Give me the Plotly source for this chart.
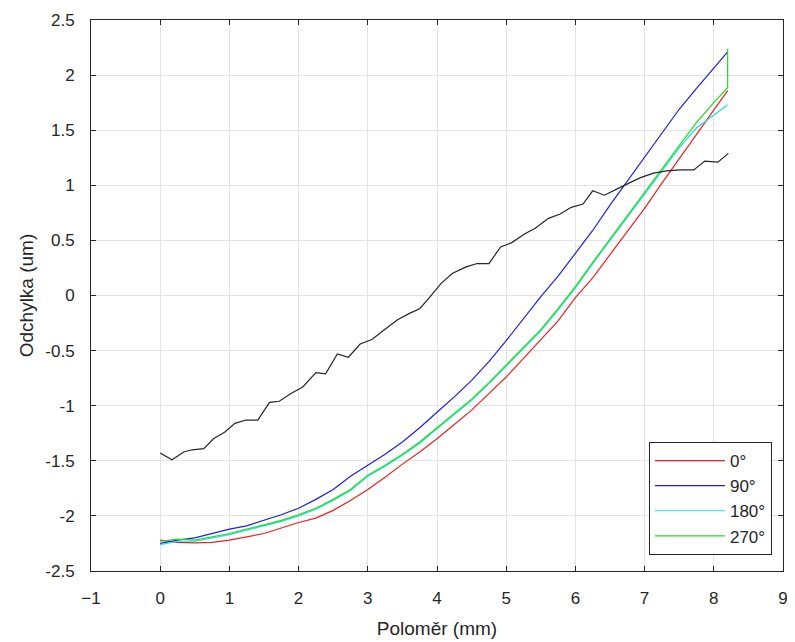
import plotly.graph_objects as go

# Radius grid for the four angular profiles (mm)
x_grid = [0, 0.25, 0.5, 0.75, 1.0, 1.25, 1.5, 1.75, 2.0, 2.25, 2.5, 2.75, 3.0, 3.25,
          3.5, 3.75, 4.0, 4.25, 4.5, 4.75, 5.0, 5.25, 5.5, 5.75, 6.0, 6.25, 6.5,
          6.75, 7.0, 7.25, 7.5, 7.75, 8.0, 8.2]

dev_0 = [-2.22, -2.24, -2.245, -2.24, -2.22, -2.19, -2.16, -2.11, -2.06, -2.02, -1.95,
         -1.86, -1.76, -1.65, -1.53, -1.42, -1.30, -1.17, -1.04, -0.89, -0.74, -0.57,
         -0.40, -0.23, -0.02, 0.16, 0.37, 0.58, 0.79, 1.02, 1.24, 1.47, 1.69, 1.86]

dev_90 = [-2.25, -2.22, -2.20, -2.16, -2.12, -2.09, -2.04, -1.99, -1.93, -1.85, -1.76,
          -1.64, -1.54, -1.44, -1.33, -1.20, -1.06, -0.92, -0.77, -0.60, -0.41, -0.21,
          -0.01, 0.175, 0.38, 0.59, 0.82, 1.04, 1.26, 1.48, 1.69, 1.88, 2.06, 2.21]

dev_180 = [-2.26, -2.23, -2.23, -2.20, -2.17, -2.13, -2.09, -2.05, -2.00, -1.94, -1.86,
           -1.77, -1.64, -1.55, -1.45, -1.34, -1.21, -1.08, -0.95, -0.80, -0.64, -0.48,
           -0.32, -0.13, 0.07, 0.29, 0.50, 0.71, 0.92, 1.13, 1.34, 1.52, 1.64, 1.73]

x_270 = x_grid + [8.2]
dev_270 = [-2.23, -2.21, -2.22, -2.19, -2.16, -2.12, -2.08, -2.04, -1.99, -1.93, -1.85,
           -1.76, -1.63, -1.54, -1.44, -1.33, -1.20, -1.07, -0.94, -0.79, -0.63, -0.47,
           -0.31, -0.12, 0.08, 0.30, 0.51, 0.72, 0.93, 1.14, 1.36, 1.57, 1.75, 1.885, 2.24]

# Black profile (unlabelled)
x_black = [0, 0.17, 0.34, 0.46, 0.63, 0.77, 0.93, 1.08, 1.24, 1.41, 1.58, 1.72, 1.89,
           2.06, 2.25, 2.39, 2.56, 2.72, 2.89, 3.06, 3.22, 3.43, 3.61, 3.75, 3.89, 4.06,
           4.22, 4.42, 4.58, 4.75, 4.92, 5.08, 5.27, 5.42, 5.61, 5.78, 5.94, 6.11, 6.25,
           6.42, 6.61, 6.75, 6.94, 7.13, 7.32, 7.51, 7.71, 7.87, 8.06, 8.21]
dev_black = [-1.43, -1.49, -1.42, -1.40, -1.39, -1.30, -1.24, -1.16, -1.13, -1.13, -0.97,
             -0.96, -0.89, -0.83, -0.70, -0.71, -0.53, -0.56, -0.44, -0.40, -0.32, -0.22,
             -0.16, -0.12, -0.02, 0.11, 0.20, 0.26, 0.29, 0.29, 0.44, 0.48, 0.56, 0.61,
             0.70, 0.74, 0.80, 0.83, 0.95, 0.91, 0.97, 1.01, 1.07, 1.11, 1.13, 1.14, 1.14,
             1.22, 1.21, 1.29]

x_ticks = list(range(-1, 10))
y_ticks = [-2.5, -2, -1.5, -1, -0.5, 0, 0.5, 1, 1.5, 2, 2.5]
y_tick_text = ["-2.5", "-2", "-1.5", "-1", "-0.5", "0", "0.5", "1", "1.5", "2", "2.5"]

fig = go.Figure()
lw = 1.2
fig.add_trace(go.Scatter(x=x_grid, y=dev_0, mode="lines", name="0°",
                         line=dict(color="#ee2020", width=lw)))
fig.add_trace(go.Scatter(x=x_grid, y=dev_90, mode="lines", name="90°",
                         line=dict(color="#2020dd", width=lw)))
fig.add_trace(go.Scatter(x=x_grid, y=dev_180, mode="lines", name="180°",
                         line=dict(color="#20e0e0", width=lw)))
fig.add_trace(go.Scatter(x=x_270, y=dev_270, mode="lines", name="270°",
                         line=dict(color="#20dd20", width=lw)))
fig.add_trace(go.Scatter(x=x_black, y=dev_black, mode="lines", showlegend=False,
                         line=dict(color="#262626", width=lw)))

font_family = "Liberation Sans, Arial, sans-serif"
axis_common = dict(
    showline=True, linecolor="#262626", linewidth=1, mirror="ticks",
    ticks="inside", ticklen=5, tickcolor="#262626", tickwidth=1,
    showgrid=True, gridcolor="#e3e3e3", gridwidth=1, zeroline=False,
    automargin=False,
    tickfont=dict(family=font_family, size=17, color="#262626"),
)

# The page has an 8px body margin, so the figure is sized to fit the window.
fig.update_layout(
    width=787, height=634,
    margin=dict(l=83, r=12, t=12, b=71, autoexpand=False),
    paper_bgcolor="white", plot_bgcolor="white",
    font=dict(family=font_family, color="#262626"),
    xaxis=dict(range=[-1, 9], tickvals=x_ticks, ticklabelstandoff=12,
               title=dict(text="Poloměr (mm)", font=dict(size=19), standoff=14),
               **axis_common),
    yaxis=dict(range=[-2.5, 2.5], tickvals=y_ticks, ticktext=y_tick_text,
               ticklabelstandoff=12,
               title=dict(text="Odchylka (um)", font=dict(size=19), standoff=6),
               **axis_common),
    legend=dict(x=0.984, y=0.029, xanchor="right", yanchor="bottom",
                bgcolor="white", bordercolor="#262626", borderwidth=1,
                font=dict(size=17, family=font_family, color="#262626"),
                tracegroupgap=0, itemwidth=70),
)

fig.write_html("out.html")
